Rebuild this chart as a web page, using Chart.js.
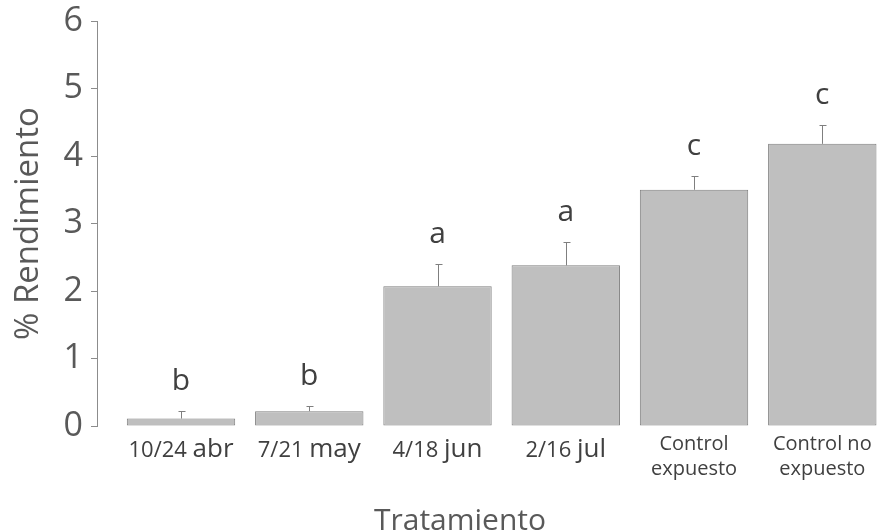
<!DOCTYPE html>
<html>
<head>
<meta charset="utf-8">
<script src="https://cdn.jsdelivr.net/npm/chart.js@4.4.1/dist/chart.umd.min.js"></script>
<style>
  html, body { margin: 0; padding: 0; background: #fff; }
  #wrap { width: 880px; height: 532px; }
</style>
</head>
<body>
<div id="wrap"><canvas id="chart"></canvas></div>
<script>
// Data
const categories = ['10/24 abr', '7/21 may', '4/18 jun', '2/16 jul', 'Control expuesto', 'Control no expuesto'];
const means = [0.11, 0.22, 2.07, 2.38, 3.50, 4.18];
const errors = [0.11, 0.08, 0.33, 0.34, 0.21, 0.28];
const letters = ['b', 'b', 'a', 'a', 'c', 'c'];
const yTicks = [0, 1, 2, 3, 4, 5, 6];
const xTitle = 'Tratamiento';
const yTitle = '% Rendimiento';

const FONT = "'Open Sans', 'DejaVu Sans', sans-serif";

// error bars, significance letters and the mixed-size x labels
const overlay = {
    id: 'overlay',
    afterDatasetsDraw(chart) {
        const ctx = chart.ctx;
        const xs = chart.scales.x;
        const ys = chart.scales.y;
        ctx.save();

        // error bars (upper only)
        ctx.strokeStyle = '#7f7f7f';
        ctx.lineWidth = 1;
        means.forEach((m, i) => {
            const px = Math.round(xs.getPixelForValue(i)) + 0.5;
            const y0 = ys.getPixelForValue(m);
            const y1 = Math.round(ys.getPixelForValue(m + errors[i])) + 0.5;
            ctx.beginPath();
            ctx.moveTo(px, y0);
            ctx.lineTo(px, y1);
            ctx.moveTo(px - 3, y1);
            ctx.lineTo(px + 4, y1);
            ctx.stroke();
        });

        // letters
        ctx.fillStyle = '#404040';
        ctx.font = '30px ' + FONT;
        ctx.textAlign = 'center';
        ctx.textBaseline = 'alphabetic';
        letters.forEach((l, i) => {
            const px = xs.getPixelForValue(i);
            const top = ys.getPixelForValue(means[i] + errors[i]);
            ctx.fillText(l, px, top - 21);
        });

        // x labels
        ctx.fillStyle = '#404040';
        categories.forEach((c, i) => {
            const px = xs.getPixelForValue(i);
            if (c.startsWith('Control')) {
                const cut = c.lastIndexOf(' ');
                ctx.font = '20px ' + FONT;
                ctx.textAlign = 'center';
                ctx.fillText(c.slice(0, cut), px, 450);
                ctx.fillText(c.slice(cut + 1), px, 475);
            } else {
                const [d, mo] = c.split(' ');
                ctx.font = '22px ' + FONT;
                const w1 = ctx.measureText(d + ' ').width;
                ctx.font = '26px ' + FONT;
                const w2 = ctx.measureText(mo).width;
                const left = px - (w1 + w2) / 2;
                ctx.textAlign = 'left';
                ctx.font = '22px ' + FONT;
                ctx.fillText(d + ' ', left, 457);
                ctx.font = '26px ' + FONT;
                ctx.fillText(mo, left + w1, 457);
            }
        });

        // x title
        ctx.fillStyle = '#595959';
        ctx.font = '30px ' + FONT;
        ctx.textAlign = 'center';
        ctx.fillText(xTitle, 460, 530);

        ctx.restore();
    }
};

new Chart(document.getElementById('chart').getContext('2d'), {
    type: 'bar',
    data: {
        datasets: [{
            data: means.map((m, i) => ({ x: i, y: m })),
            backgroundColor: '#bfbfbf',
            borderColor: '#7f7f7f',
            borderWidth: 1,
            borderSkipped: false,
            categoryPercentage: 1,
            barPercentage: 0.845
        }]
    },
    options: {
        responsive: true,
        maintainAspectRatio: false,
        animation: false,
        layout: { padding: { top: 21, right: 0, left: 0, bottom: 0 } },
        scales: {
            x: {
                type: 'linear',
                offset: false,
                min: -0.655,
                max: 5.45,
                afterBuildTicks: function(scale) {
                    scale.ticks = categories.map((_, i) => ({ value: i }));
                },
                ticks: { display: false },
                grid: { display: false },
                border: { display: false },
                afterFit: function(scale) { scale.height = 106; }
            },
            y: {
                min: 0,
                max: 6,
                afterBuildTicks: function(scale) {
                    scale.ticks = yTicks.map(v => ({ value: v }));
                },
                ticks: {
                    color: '#595959',
                    padding: 8,
                    font: { family: FONT, size: 34 }
                },
                grid: {
                    display: true,
                    drawOnChartArea: false,
                    tickLength: 6,
                    color: '#8c8c8c'
                },
                border: { display: true, color: '#8c8c8c' },
                title: {
                    display: true,
                    text: yTitle,
                    color: '#595959',
                    font: { family: FONT, size: 33 },
                    padding: { top: 9, bottom: 0 }
                },
                afterFit: function(scale) {
                    scale.width = 97;
                    scale.paddingTop = 0;
                    scale.paddingBottom = 0;
                }
            }
        },
        plugins: {
            legend: { display: false },
            tooltip: { enabled: false }
        }
    },
    plugins: [overlay]
});
</script>
</body>
</html>
